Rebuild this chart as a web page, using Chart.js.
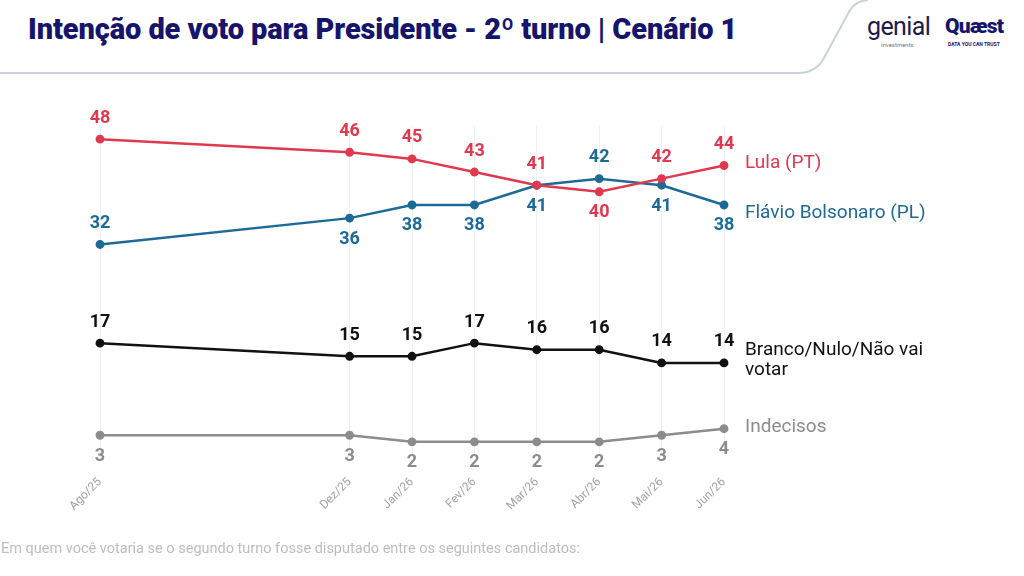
<!DOCTYPE html>
<html lang="pt-BR">
<head>
<meta charset="utf-8">
<title>Intenção de voto para Presidente - 2º turno</title>
<script src="https://cdn.jsdelivr.net/npm/chart.js@4.4.1/dist/chart.umd.min.js"></script>
<style>
  html, body { margin: 0; padding: 0; background: #fff; }
  #wrap { position: relative; width: 1024px; height: 576px; overflow: hidden; font-family: Roboto, "Noto Sans", sans-serif; }
  #title { position: absolute; left: 28px; top: 12px; font-size: 29px; font-weight: 900; color: #16146b; letter-spacing: -0.1px; white-space: nowrap; }
  #header-line { position: absolute; left: 0; top: 0; }
  .logo-genial { position: absolute; left: 867px; top: 12px; font-size: 25px; color: #1d1b4c; letter-spacing: -0.6px; }
  .logo-genial small { position: absolute; left: 14px; top: 29px; font-size: 6px; color: #777; letter-spacing: 0; }
  .logo-quaest { position: absolute; left: 945px; top: 14px; font-size: 21px; font-weight: 900; color: #16146b; letter-spacing: -0.8px; }
  .logo-quaest small { position: absolute; left: 3px; top: 27px; font-size: 5px; color: #16146b; font-weight: 700; letter-spacing: 0; white-space: nowrap; }
  #note { position: absolute; left: 1px; top: 540px; font-size: 14.5px; color: #bdbdbd; white-space: nowrap; }
  canvas { position: absolute; left: 0; top: 0; }
</style>
</head>
<body>
<div id="wrap">
  <svg id="header-line" width="1024" height="80">
    <path d="M0 73 L798 73 Q816 73 824 58 L850 10 Q856 1 868 0" fill="none" stroke="#c9d2d9" stroke-width="2"/>
  </svg>
  <div id="title">Intenção de voto para Presidente - 2º turno | Cenário 1</div>
  <div class="logo-genial">genial<small>investments</small></div>
  <div class="logo-quaest">Quæst<small>DATA YOU CAN TRUST</small></div>
  <canvas id="chart" width="1024" height="576"></canvas>
  <div id="note">Em quem você votaria se o segundo turno fosse disputado entre os seguintes candidatos:</div>
</div>
<script>
// ─── Data ─────────────────────────────────────────────────
// month index from Ago/25 (0) to Jun/26 (10)
const months = [0, 4, 5, 6, 7, 8, 9, 10];
const monthLabels = ['Ago/25', 'Dez/25', 'Jan/26', 'Fev/26', 'Mar/26', 'Abr/26', 'Mai/26', 'Jun/26'];

const lula      = [48, 46, 45, 43, 41, 40, 42, 44];
const flavio    = [32, 36, 38, 38, 41, 42, 41, 38];
const branco    = [17, 15, 15, 17, 16, 16, 14, 14];
const indecisos = [3, 3, 2, 2, 2, 2, 3, 4];

const seriesNames = ['Lula (PT)', 'Flávio Bolsonaro (PL)', 'Branco/Nulo/Não vai votar', 'Indecisos'];

// where value labels sit: 1 = above, -1 = below
const lulaPos      = [1, 1, 1, 1, 1, -1, 1, 1];
const flavioPos    = [1, -1, -1, -1, -1, 1, -1, -1];
const brancoPos    = [1, 1, 1, 1, 1, 1, 1, 1];
const indecisosPos = [-1, -1, -1, -1, -1, -1, -1, -1];

const colors = ['#e0394f', '#1d6a96', '#111111', '#8c8c8c'];

function pts(vals) { return vals.map((v, i) => ({ x: months[i], y: v })); }

function ds(label, vals, color, pos, nameLines, nameDy) {
  return {
    label, data: pts(vals), pos, nameLines, nameDy,
    borderColor: color, backgroundColor: color,
    pointBackgroundColor: color, pointBorderColor: color,
    borderWidth: 2.5, pointRadius: 3.2, tension: 0, clip: false,
  };
}

// ─── Value labels + series names ──────────────────────────
const labelsPlugin = {
  id: 'valueLabels',
  afterDatasetsDraw(chart) {
    const c = chart.ctx;
    chart.data.datasets.forEach((d, di) => {
      const meta = chart.getDatasetMeta(di);
      c.save();
      c.fillStyle = d.borderColor;
      c.font = 'bold 18px Roboto, sans-serif';
      c.textAlign = 'center';
      c.textBaseline = 'middle';
      meta.data.forEach((p, i) => {
        c.fillText(String(d.data[i].y), p.x, p.y - d.pos[i] * 21);
      });
      // series name to the right of the last point
      const last = meta.data[meta.data.length - 1];
      c.font = '19px Roboto, sans-serif';
      c.textAlign = 'left';
      d.nameLines.forEach((t, k) => c.fillText(t, last.x + 21, last.y + d.nameDy + k * 20));
      c.restore();
    });
  }
};

new Chart(document.getElementById('chart'), {
  type: 'line',
  data: {
    datasets: [
      ds(seriesNames[0], lula, colors[0], lulaPos, [seriesNames[0]], -2),
      ds(seriesNames[1], flavio, colors[1], flavioPos, [seriesNames[1]], 8),
      ds(seriesNames[2], branco, colors[2], brancoPos, ['Branco/Nulo/Não vai', 'votar'], -13),
      ds(seriesNames[3], indecisos, colors[3], indecisosPos, [seriesNames[3]], -1),
    ],
  },
  options: {
    responsive: false,
    animation: false,
    layout: { padding: { top: 126, left: 100, right: 300, bottom: 0 } },
    plugins: { legend: { display: false }, tooltip: { enabled: false } },
    scales: {
      x: {
        type: 'linear', min: 0, max: 10,
        afterBuildTicks: axis => { axis.ticks = months.map(v => ({ value: v })); },
        afterFit: axis => { axis.height = 121; },
        ticks: {
          autoSkip: false, maxRotation: 45, minRotation: 45,
          color: '#a3a3a3', font: { size: 12, family: 'Roboto' }, padding: 20,
          callback: v => monthLabels[months.indexOf(v)],
        },
        grid: { color: '#f0f0f0', drawTicks: false },
        border: { display: false },
      },
      y: { display: false, min: 0, max: 50 },
    },
  },
  plugins: [labelsPlugin],
});
</script>
</body>
</html>
